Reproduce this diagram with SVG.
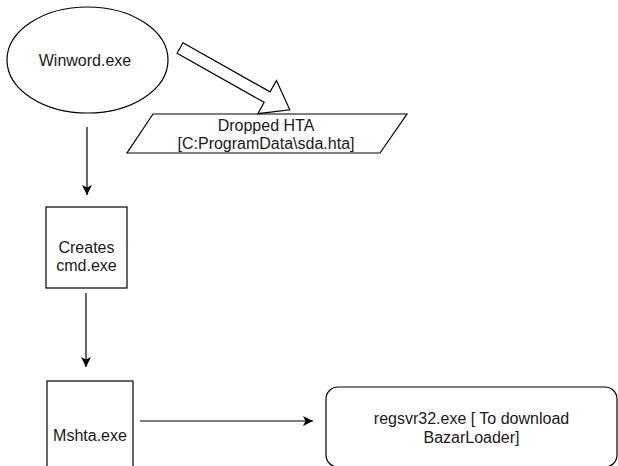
<svg xmlns="http://www.w3.org/2000/svg" width="618" height="466" viewBox="0 0 618 466">
<defs>
<marker id="ah" viewBox="0 0 10 10" refX="10" refY="5" markerWidth="10" markerHeight="10" markerUnits="userSpaceOnUse" orient="auto">
<path d="M0,0 L10,5 L0,10 L2.5,5 Z" fill="#000"/>
</marker>
<style>
.shape{fill:#fff;stroke:#000;stroke-width:1.2}
.t{font-family:"Liberation Sans",Arial,sans-serif;font-size:16px;fill:#1a1a1a;text-anchor:middle}
.c{stroke:#000;stroke-width:1.2;fill:none}
</style>
</defs>
<rect width="618" height="466" fill="#fff"/>
<g id="winword">
<ellipse class="shape" cx="87.5" cy="60" rx="80.5" ry="53"/>
<text class="t" x="85" y="66">Winword.exe</text>
</g>
<g id="dropped-hta">
<polygon class="shape" points="153,114 407,114 380,153 127,153"/>
<text class="t" x="266" y="131">Dropped HTA</text>
<text class="t" x="266" y="149">[C:ProgramData\sda.hta]</text>
</g>
<g id="cmd">
<rect class="shape" x="46" y="207" width="81" height="81"/>
<text class="t" x="86.5" y="253">Creates</text>
<text class="t" x="86.5" y="271">cmd.exe</text>
</g>
<g id="mshta">
<rect class="shape" x="47" y="381" width="86" height="100"/>
<text class="t" x="90" y="441">Mshta.exe</text>
</g>
<g id="regsvr32">
<rect class="shape" x="326" y="387" width="291" height="80" rx="12" ry="12"/>
<text class="t" x="471.5" y="424">regsvr32.exe [ To download</text>
<text class="t" x="471.5" y="443">BazarLoader]</text>
</g>
<g id="connectors">
<polygon class="shape" stroke-width="1" transform="translate(180,48) rotate(29.4)" points="0,-6 100,-6 100,-19 126,0 100,19 100,6 0,6"/>
<line class="c" x1="87" y1="127" x2="87" y2="195" marker-end="url(#ah)"/>
<line class="c" x1="86" y1="293" x2="86" y2="367" marker-end="url(#ah)"/>
<line class="c" x1="140" y1="421" x2="313" y2="421" marker-end="url(#ah)"/>
</g>
</svg>
